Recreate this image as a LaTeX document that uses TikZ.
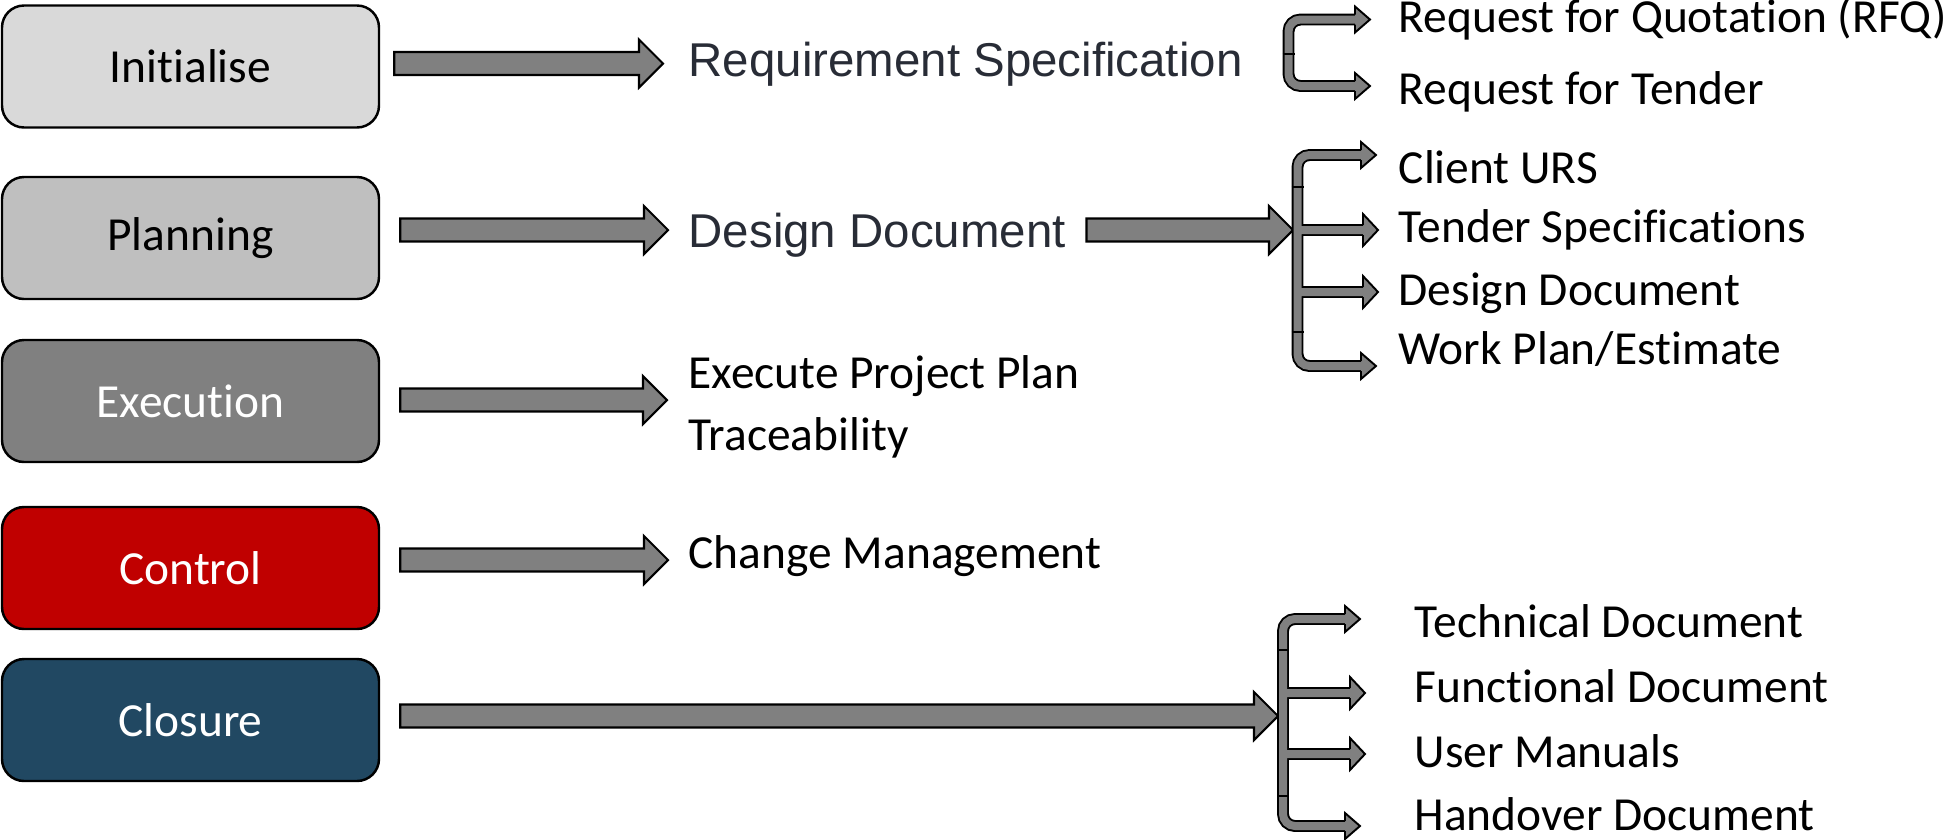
\documentclass[tikz,border=0pt]{standalone}
\usepackage{fontspec}
\setmainfont{Carlito}[Ligatures=NoCommon]
\newfontfamily\docfont{Liberation Sans}
\usetikzlibrary{calc}

\definecolor{initgray}{HTML}{D9D9D9}
\definecolor{plangray}{HTML}{BFBFBF}
\definecolor{execgray}{HTML}{808080}
\definecolor{ctrlred}{HTML}{C00000}
\definecolor{closeblue}{RGB}{33,72,98}
\definecolor{arrowgray}{HTML}{808080}
\definecolor{slate}{RGB}{40,44,54}

\tikzset{
  phasebox/.style={draw=black, line width=0.7pt, rounded corners=0.22cm,
    minimum width=3.77cm, minimum height=1.22cm, font=\fontsize{13.5}{16}\selectfont},
  itemtext/.style={anchor=base west, inner sep=0pt, font=\fontsize{13.5}{16}\selectfont},
  doctext/.style={itemtext, text=slate, font=\fontsize{13.5}{16}\docfont},
  fatarrow/.style={draw=black, line width=0.6pt, fill=arrowgray, to path={
    let \p1=(\tikztostart), \p2=(\tikztotarget) in
    (\x1,\y1+0.115cm) -- (\x2-0.24cm,\y1+0.115cm) -- (\x2-0.24cm,\y1+0.24cm) -- (\x2,\y1)
    -- (\x2-0.24cm,\y1-0.24cm) -- (\x2-0.24cm,\y1-0.115cm) -- (\x1,\y1-0.115cm) -- cycle}},
  pipe/.style={draw=black, line width=0.55pt, double=arrowgray, double distance=0.08cm,
    rounded corners=0.12cm},
  branchhead/.style={fill=arrowgray, draw=black, line width=0.55pt},
}

\begin{document}
\begin{tikzpicture}
\useasboundingbox (0,0) rectangle (19.53,-8.39);

\node[phasebox, fill=initgray] (init) at (1.905,-0.665) {Initialise};
\node[phasebox, fill=plangray] (plan) at (1.905,-2.38) {Planning};
\node[phasebox, fill=execgray, text=white] (exec) at (1.905,-4.01) {Execution};
\node[phasebox, fill=ctrlred, text=white] (ctrl) at (1.905,-5.68) {Control};
\node[phasebox, fill=closeblue, text=white] (clos) at (1.905,-7.20) {Closure};

\node[doctext] (reqspec) at (6.88,-0.76) {Requirement Specification};
\node[doctext] (desdoc) at (6.88,-2.47) {Design Document};
\node[itemtext] (exe) at (6.88,-3.88) {Execute Project Plan};
\node[itemtext] (trace) at (6.88,-4.50) {Traceability};
\node[itemtext] (chg) at (6.88,-5.68) {Change Management};

\node[itemtext] (rfq) at (13.98,-0.32) {Request for Quotation (RFQ)};
\node[itemtext] (rft) at (13.98,-1.04) {Request for Tender};
\node[itemtext] (urs) at (13.98,-1.83) {Client URS};
\node[itemtext] (tsp) at (13.98,-2.42) {Tender Specifications};
\node[itemtext] (dsd) at (13.98,-3.05) {Design Document};
\node[itemtext] (wpe) at (13.98,-3.64) {Work Plan/Estimate};
\node[itemtext] (tec) at (14.14,-6.37) {Technical Document};
\node[itemtext] (fun) at (14.14,-7.02) {Functional Document};
\node[itemtext] (usr) at (14.14,-7.67) {User Manuals};
\node[itemtext] (hnd) at (14.14,-8.30) {Handover Document};

\coordinate (ddbar) at (12.93,-2.30);
\coordinate (clbar) at (12.78,-7.16);

\draw[fatarrow] ([shift={(0.14,0.03)}]init.east) to ([xshift=-0.25cm]reqspec.west);
\draw[fatarrow] ([shift={(0.20,0.08)}]plan.east) to ([xshift=-0.20cm]desdoc.west);
\draw[fatarrow] ([shift={(0.20,0.01)}]exec.east) to ([xshift=-0.21cm]exe.west);
\draw[fatarrow] ([shift={(0.20,0.08)}]ctrl.east) to ([xshift=-0.20cm]chg.west);
\draw[fatarrow] ([shift={(0.20,0.04)}]clos.east) to (clbar);
\draw[fatarrow] ([xshift=0.20cm]desdoc.east |- ddbar) to (ddbar);

\draw[pipe] (13.56,-0.195) -- (12.885,-0.195) -- (12.885,-0.86) -- (13.56,-0.86);
\draw[line width=0.55pt] (12.825,-0.54) -- (12.945,-0.54);
\foreach \y in {-0.195,-0.86}
  \filldraw[branchhead] (13.55,\y+0.05) -- (13.55,\y+0.13) -- (13.70,\y) -- (13.55,\y-0.13) -- (13.55,\y-0.05);

\draw[pipe] (13.62,-1.55) -- (12.975,-1.55) -- (12.975,-3.66) -- (13.62,-3.66)
  foreach \y in {-2.30,-2.92} {(12.975,\y) -- (13.64,\y)};
\foreach \y in {-1.87,-3.32}
  \draw[line width=0.55pt] (12.915,\y) -- (13.035,\y);
\foreach \y/\t/\h in {-1.55/13.76/0.13, -2.30/13.78/0.16, -2.92/13.78/0.16, -3.66/13.76/0.13}
  \filldraw[branchhead] (\t-0.15,\y+0.05) -- (\t-0.15,\y+\h) -- (\t,\y) -- (\t-0.15,\y-\h) -- (\t-0.15,\y-0.05);

\draw[pipe] (13.46,-6.19) -- (12.83,-6.19) -- (12.83,-8.26) -- (13.46,-8.26)
  foreach \y in {-6.93,-7.54} {(12.83,\y) -- (13.51,\y)};
\foreach \y in {-6.50,-7.96}
  \draw[line width=0.55pt] (12.77,\y) -- (12.89,\y);
\foreach \y/\t/\h in {-6.19/13.60/0.13, -6.93/13.65/0.16, -7.54/13.65/0.16, -8.26/13.60/0.13}
  \filldraw[branchhead] (\t-0.15,\y+0.05) -- (\t-0.15,\y+\h) -- (\t,\y) -- (\t-0.15,\y-\h) -- (\t-0.15,\y-0.05);
\end{tikzpicture}
\end{document}
